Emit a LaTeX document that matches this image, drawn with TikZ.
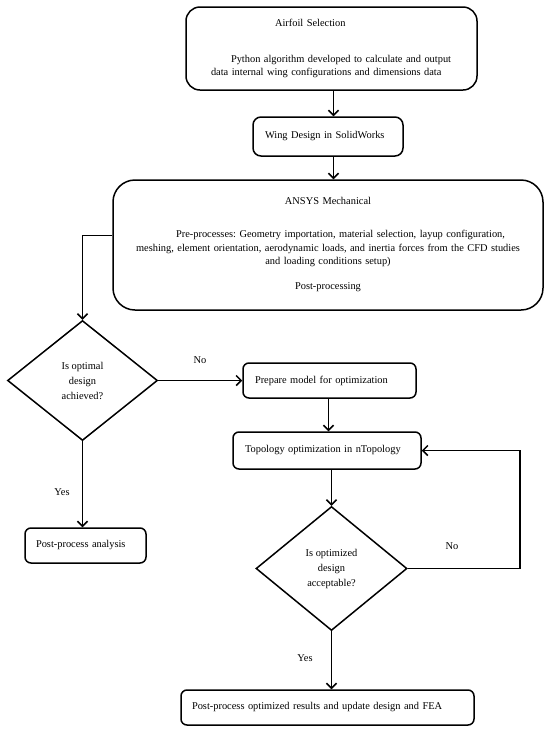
\documentclass[tikz,border=0pt]{standalone}
\usepackage{fontspec}
\setmainfont{Liberation Serif}
\usetikzlibrary{arrows.meta,shapes.geometric}
\frenchspacing
\begin{document}
\begin{tikzpicture}[x=1pt,y=-1pt,
  every node/.style={font=\fontsize{10.4}{13.5}\selectfont},
  box/.style={draw, line width=1.5pt, rounded corners=6pt, inner ysep=0pt, inner xsep=12pt, align=left, minimum height=#1},
  box/.default=35pt,
  dia/.style={draw, diamond, line width=1.5pt, inner sep=0pt, align=center, font=\fontsize{10.4}{15}\selectfont},
  arr/.style={line width=1.5pt, -{Straight Barb[length=5pt,width=10pt,line width=1.5pt]}},
  lbl/.style={inner sep=0pt}
]
\useasboundingbox (0,0) rectangle (550,732);

\node[box=83pt, rounded corners=14pt, inner xsep=25pt, text width=241pt] (airfoil) at (331.5,48.5)
  {\hspace*{64pt}Airfoil Selection\\[22.5pt]\hspace*{20pt}Python algorithm developed to calculate and output\\data internal wing configurations and dimensions data};

\node[box=39pt, rounded corners=8pt, text width=126pt] (wing) at (328,136.5) {Wing Design in SolidWorks};

\node[box=130pt, rounded corners=22pt, inner xsep=8pt, text width=414pt, align=center] (ansys) at (328,245)
  {ANSYS Mechanical\hspace*{14pt}\\[19.5pt]\hspace*{25pt}Pre-processes: Geometry importation, material selection, layup configuration,\\meshing, element orientation, aerodynamic loads, and inertia forces from the CFD studies\\and loading conditions setup)\\[11.5pt]Post-processing\hspace*{20pt}};

\node[dia, minimum width=150pt, minimum height=120pt] (d1) at (82.5,380.5) {Is optimal\\design\\achieved?};

\node[box, text width=149pt] (prep) at (329.5,380.5) {Prepare model for optimization};

\node[box=37pt, text width=164pt] (topo) at (327,450.5) {Topology optimization in nTopology};

\node[dia, minimum width=151pt, minimum height=124pt] (d2) at (331.5,568.5) {Is optimized\\design\\acceptable?};

\node[box, inner xsep=11pt, text width=99pt] (post) at (85.5,545.5) {Post-process analysis};

\node[box, inner xsep=11pt, text width=271pt] (final) at (327.5,707.5) {Post-process optimized results and update design and FEA};

\node[lbl] (no1) at (200,360) {No};
\node[lbl] (yes1) at (62,492) {Yes};
\node[lbl] (no2) at (452,546) {No};
\node[lbl] (yes2) at (305,658) {Yes};

\draw[arr] ([xshift=5.5pt]wing.north |- airfoil.south) -- ([xshift=5.5pt]wing.north);
\draw[arr] ([xshift=5.5pt]wing.south) -- ([xshift=5.5pt]wing.south |- ansys.north);
\draw[arr] ([yshift=9.5pt]ansys.west) -| (d1.north);
\draw[arr] (d1.east) -- (d1.east -| prep.west);
\draw[arr] ([xshift=-1pt]prep.south) -- ([xshift=-1pt]prep.south |- topo.north);
\draw[arr] (d2.north |- topo.south) -- (d2.north);
\draw[arr] (d2.east) -- ++(112,0) |- (topo.east);
\draw[arr] (d2.south) -- (d2.south |- final.north);
\draw[arr] (d1.south) -- (d1.south |- post.north);
\end{tikzpicture}
\end{document}
